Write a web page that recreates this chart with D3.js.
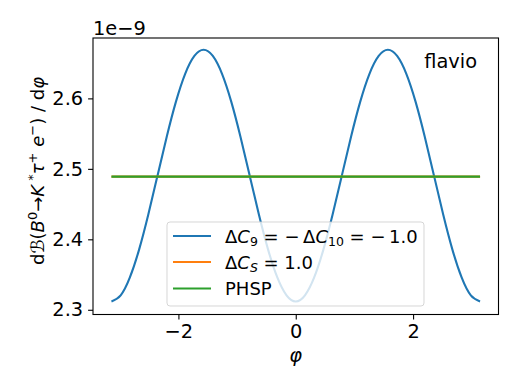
<!DOCTYPE html>
<html>
  <head>
    <meta charset="UTF-8">
    <script src="https://d3js.org/d3.v7.min.js"></script>
    <style>
      body { margin: 0; background: #fff; }
      svg text { font-family: "DejaVu Sans", sans-serif; fill: #000; }
      .axis path, .axis line { stroke: #000; stroke-width: 1.1; }
    </style>
  </head>
  <body>
    <svg id="svg" width="518" height="389"></svg>
    <script>
      // ---- data (y in units of 1e-9) ----
      const PI = Math.PI;
      const phiValues = [
        -PI, -19*PI/20, -18*PI/20, -17*PI/20, -16*PI/20, -15*PI/20, -14*PI/20, -13*PI/20, -12*PI/20, -11*PI/20,
        -10*PI/20, -9*PI/20, -8*PI/20, -7*PI/20, -6*PI/20, -5*PI/20, -4*PI/20, -3*PI/20, -2*PI/20, -PI/20,
        0, PI/20, 2*PI/20, 3*PI/20, 4*PI/20, 5*PI/20, 6*PI/20, 7*PI/20, 8*PI/20, 9*PI/20,
        10*PI/20, 11*PI/20, 12*PI/20, 13*PI/20, 14*PI/20, 15*PI/20, 16*PI/20, 17*PI/20, 18*PI/20, 19*PI/20, PI
      ];
      const dc9Values = [
        2.3118, 2.3205, 2.3459, 2.3854, 2.4352, 2.4904, 2.5456, 2.5954, 2.6349, 2.6603,
        2.6690, 2.6603, 2.6349, 2.5954, 2.5456, 2.4904, 2.4352, 2.3854, 2.3459, 2.3205,
        2.3118, 2.3205, 2.3459, 2.3854, 2.4352, 2.4904, 2.5456, 2.5954, 2.6349, 2.6603,
        2.6690, 2.6603, 2.6349, 2.5954, 2.5456, 2.4904, 2.4352, 2.3854, 2.3459, 2.3205, 2.3118
      ];
      const flatPhi = [-PI, PI];
      const dcsValues = [2.489, 2.489];
      const phspValues = [2.489, 2.489];

      const xTicks = [-2, 0, 2];
      const yTicks = [2.3, 2.4, 2.5, 2.6];

      const colors = ["#1f77b4", "#ff7f0e", "#2ca02c"];

      // ---- layout ----
      const svg = d3.select("svg#svg");
      const margin = {left: 93, top: 38, right: 20, bottom: 75};
      const plotWidth = 498.5 - margin.left;
      const plotHeight = 314.5 - margin.top;
      const fs = "19.4px";

      const xScale = d3.scaleLinear().domain([-3.456, 3.456]).range([0, plotWidth]);
      const yScale = d3.scaleLinear().domain([2.2933, 2.6857]).range([plotHeight, 0]);

      const plot = svg.append("g")
        .attr("transform", "translate(" + margin.left + "," + margin.top + ")");

      // axes
      const bottomAxis = d3.axisBottom(xScale).tickValues(xTicks)
        .tickSize(4.9).tickPadding(4.9).tickFormat(d => d3.format("d")(d).replace("-", "\u2212"));
      const leftAxis = d3.axisLeft(yScale).tickValues(yTicks)
        .tickSize(4.9).tickPadding(4.9).tickFormat(d3.format(".1f"));

      plot.append("g").attr("class", "axis")
        .attr("transform", "translate(0," + plotHeight + ")")
        .call(bottomAxis)
        .call(g => g.select(".domain").remove())
        .selectAll("text").style("font-size", fs);

      plot.append("g").attr("class", "axis")
        .call(leftAxis)
        .call(g => g.select(".domain").remove())
        .selectAll("text").style("font-size", fs);

      // lines
      const line = d3.line().x(d => xScale(d[0])).y(d => yScale(d[1])).curve(d3.curveNatural);
      const series = [
        {label: "dc9", pts: d3.zip(phiValues, dc9Values), color: colors[0]},
        {label: "dcs", pts: d3.zip(flatPhi, dcsValues), color: colors[1]},
        {label: "phsp", pts: d3.zip(flatPhi, phspValues), color: colors[2]}
      ];
      series.forEach(s => {
        plot.append("path").datum(s.pts)
          .attr("d", line)
          .attr("fill", "none")
          .attr("stroke", s.color)
          .attr("stroke-width", 2.1);
      });

      // frame
      plot.append("rect")
        .attr("width", plotWidth).attr("height", plotHeight)
        .attr("fill", "none").attr("stroke", "#000").attr("stroke-width", 1.1);

      // legend
      const leg = plot.append("g").attr("transform", "translate(" + (167 - margin.left) + "," + (222 - margin.top) + ")");
      leg.append("rect")
        .attr("width", 257).attr("height", 84).attr("rx", 3)
        .attr("fill", "#fff").attr("fill-opacity", 0.8)
        .attr("stroke", "#ccc").attr("stroke-opacity", 0.8);

      const rows = [14, 40, 66.5];
      rows.forEach((ry, i) => {
        leg.append("line")
          .attr("x1", 6).attr("x2", 44).attr("y1", ry).attr("y2", ry)
          .attr("stroke", colors[i]).attr("stroke-width", 2.1);
      });

      const t1 = leg.append("text").attr("x", 58).attr("y", rows[0] + 6.5).style("font-size", "18px");
      t1.append("tspan").text("\u0394");
      t1.append("tspan").attr("font-style", "italic").text("C");
      t1.append("tspan").attr("font-size", "12.5px").attr("dy", 3).text("9");
      t1.append("tspan").attr("dy", -3).text(" = \u2212\u2009\u0394");
      t1.append("tspan").attr("font-style", "italic").text("C");
      t1.append("tspan").attr("font-size", "12.5px").attr("dy", 3).text("10");
      t1.append("tspan").attr("dy", -3).text(" = \u2212\u20091.0");

      const t2 = leg.append("text").attr("x", 58).attr("y", rows[1] + 6.5).style("font-size", "18px");
      t2.append("tspan").text("\u0394");
      t2.append("tspan").attr("font-style", "italic").text("C");
      t2.append("tspan").attr("font-size", "12.5px").attr("font-style", "italic").attr("dy", 3).text("S");
      t2.append("tspan").attr("dy", -3).text(" = 1.0");

      leg.append("text").attr("x", 58).attr("y", rows[2] + 6.5).style("font-size", "18px").text("PHSP");

      // annotations
      svg.append("text").attr("x", 477).attr("y", 68).attr("text-anchor", "end")
        .style("font-size", fs).text("flavio");

      svg.append("text").attr("x", 93).attr("y", 35).style("font-size", fs).text("1e\u22129");

      svg.append("text").attr("x", margin.left + xScale(0)).attr("y", 362).attr("text-anchor", "middle")
        .style("font-size", fs).style("font-style", "italic").text("\u03c6");

      const yl = svg.append("text")
        .attr("transform", "translate(44,171) rotate(-90)")
        .attr("text-anchor", "middle")
        .style("font-size", "18px");
      yl.append("tspan").text("d");
      yl.append("tspan").attr("font-style", "italic").text("\u212c");
      yl.append("tspan").text("(");
      yl.append("tspan").attr("font-style", "italic").text("B");
      yl.append("tspan").attr("font-size", "13px").attr("dy", -7).text("0");
      yl.append("tspan").attr("dy", 7).text("\u2192");
      yl.append("tspan").attr("font-style", "italic").text("K");
      yl.append("tspan").attr("font-size", "13px").attr("dy", -7).text(" *");
      yl.append("tspan").attr("dy", 7).attr("font-style", "italic").text("\u03c4");
      yl.append("tspan").attr("font-size", "13px").attr("dy", -7).text("+");
      yl.append("tspan").attr("dy", 7).attr("font-style", "italic").text(" e");
      yl.append("tspan").attr("font-size", "13px").attr("dy", -7).text("\u2212");
      yl.append("tspan").attr("dy", 7).text(") / d");
      yl.append("tspan").attr("font-style", "italic").text("\u03c6");
    </script>
  </body>
</html>
